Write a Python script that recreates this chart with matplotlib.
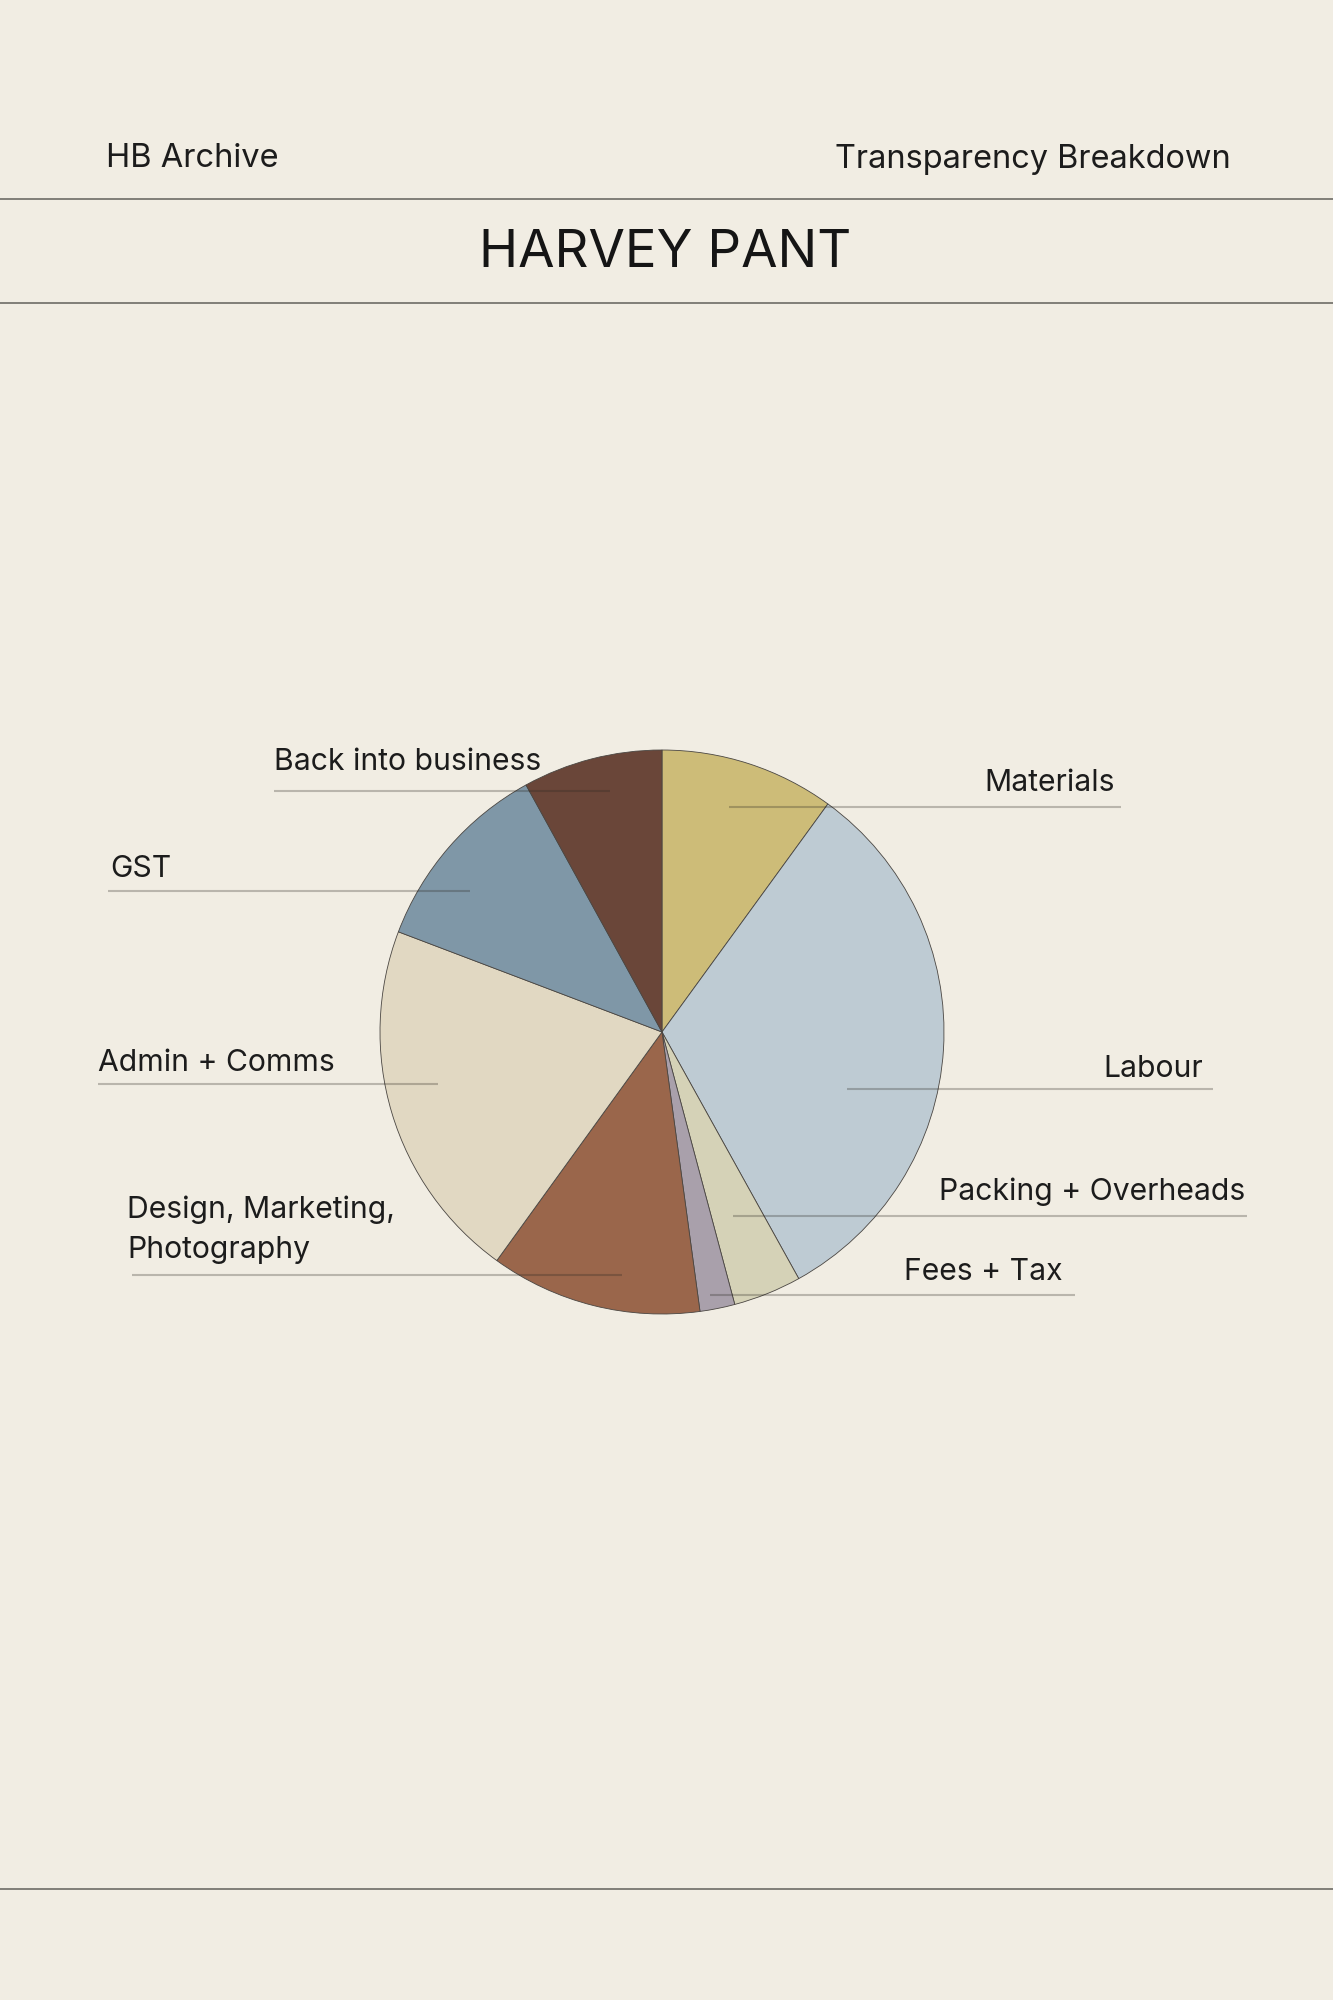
import matplotlib
matplotlib.use("Agg")
import matplotlib.pyplot as plt

# Cost breakdown (percent of retail price)
categories = ["Materials", "Labour", "Packing + Overheads", "Fees + Tax",
              "Design, Marketing,\nPhotography", "Admin + Comms", "GST",
              "Back into business"]
shares = [10.0, 31.9, 3.9, 2.0, 12.1, 20.8, 11.2, 8.0]
slice_colors = ["#CDBC78", "#BECBD3", "#D5D2B7", "#A9A0AB",
                "#9A664B", "#E1D8C2", "#7F97A7", "#6A4639"]

W, H = 1333, 2000
BG = "#F1EDE3"
FONT = ["Inter", "DejaVu Sans"]
INK = "#1c1c1c"

fig = plt.figure(figsize=(W / 100, H / 100), dpi=100, facecolor=BG)
ax = fig.add_axes([0, 0, 1, 1])
ax.set_facecolor(BG)


def Y(y):
    # page coordinates are measured from the top edge
    return H - y


# header
ax.text(106, Y(167), "HB Archive", fontsize=23.5, family=FONT,
        ha="left", va="baseline", color=INK)
ax.text(1231, Y(168), "Transparency Breakdown", fontsize=23.4, family=FONT,
        ha="right", va="baseline", color=INK)
ax.text(665, Y(267), "HARVEY PANT", fontsize=38, family=FONT,
        ha="center", va="baseline", color="#151515")
for yy in (198.5, 302.5, 1889):
    ax.plot([0, W], [Y(yy), Y(yy)], color="#6E6C66", lw=1.2,
            solid_capstyle="butt")

# pie
wedges, _ = ax.pie(shares, colors=slice_colors, startangle=90,
                   counterclock=False, center=(662, Y(1032)), radius=282,
                   wedgeprops=dict(edgecolor="#4a4642", linewidth=0.6),
                   frame=True)
ax.set_xlim(0, W)
ax.set_ylim(0, H)
ax.set_aspect("equal")
ax.axis("off")

# label layout: (text x, baseline y, underline y, underline x0, x1, align)
label_layout = [
    (1115, 791, 806.5, 729, 1121, "right"),
    (1203, 1077, 1089, 847, 1213, "right"),
    (1245, 1200, 1216, 733, 1247, "right"),
    (1063, 1280, 1294.5, 710, 1075, "right"),
    (127, 1217.5, 1275, 132, 622, "left"),
    (98, 1071, 1084, 98, 438, "left"),
    (110, 877, 891, 108, 470, "left"),
    (274, 770, 791, 274, 610, "left"),
]

line_gap = 40.5
for name, (tx, ty, ly, x0, x1, ha) in zip(categories, label_layout):
    for i, ln in enumerate(name.split("\n")):
        ax.text(tx, Y(ty + i * line_gap), ln, fontsize=21.7, family=FONT,
                ha=ha, va="baseline", color=INK, zorder=5)
    ax.plot([x0, x1], [Y(ly), Y(ly)], color="#2a2620", alpha=0.28,
            lw=1.5, zorder=6, solid_capstyle="butt")

fig.savefig("out.png", dpi=100, facecolor=BG)
